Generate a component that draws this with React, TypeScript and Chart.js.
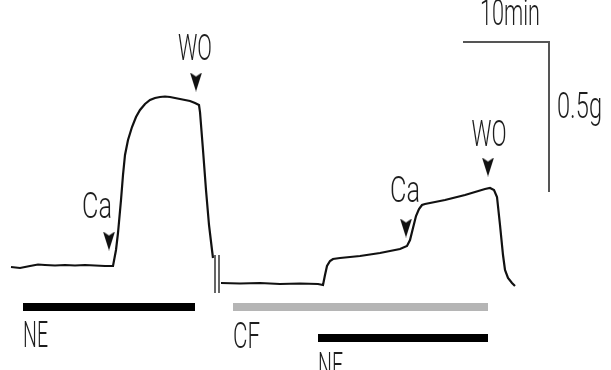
import React, { useEffect, useRef } from "react";
import { Chart, registerables } from "chart.js";

Chart.register(...registerables);

// Time axis in recording units (10 min ≈ 87 units), tension in recording units (0.5 g ≈ 150 units)
const trace1X = [11, 20, 30, 38, 45, 55, 65, 75, 85, 95, 105, 113, 116, 118, 121, 123, 125, 128, 132, 136, 140, 145, 150, 155, 160, 165, 170, 175, 180, 185, 190, 195, 199, 200, 203, 206, 209, 212, 213];
const trace1Y = [103, 102, 104, 105.5, 105, 104.5, 105, 104.5, 105, 104.5, 104, 104, 120, 137, 170, 195, 215, 230, 243, 253, 260, 266, 270, 272, 273, 273.5, 273, 272, 271, 270, 269, 267, 265, 258, 220, 180, 145, 120, 112];

const trace2X = [221, 240, 260, 280, 300, 318, 323, 325, 327, 330, 333, 340, 350, 360, 370, 380, 390, 400, 407, 410, 413, 416, 419, 422, 425, 435, 445, 455, 465, 475, 485, 490, 494, 497, 500, 503, 505, 508, 512, 515];
const trace2Y = [87, 86.5, 87, 86, 86.5, 86, 85, 95, 104, 109, 111, 112, 113, 114, 115.5, 117, 119, 121, 124, 130, 142, 154, 161, 165, 166, 168, 170, 172.5, 175, 178, 181, 182, 180, 173, 145, 115, 100, 92, 87, 84];

// Drug application periods [start, end]
const ne1Period = [23, 195];
const cfPeriod = [233, 488];
const ne2Period = [318, 488];
const barLevelUpper = 63;
const barLevelLower = 32;

// Scale bar: 10 min horizontal, 0.5 g vertical
const scaleBarX = [463, 549, 549];
const scaleBarY = [328, 328, 178];

// Break in recording
const breakX = [215, 219];
const breakY = [77, 115];

// Event markers (Ca, WO)
const markerX = [109, 196, 406, 488];
const markerY = [129, 288, 142, 203];

// Text labels
const labelText = ["Ca", "WO", "NE", "CF", "NE", "10min", "0.5g", "Ca", "WO"];
const labelX = [97, 195, 35.5, 246.5, 330.5, 510, 579.5, 405, 489];
const labelY = [152, 310, 23, 22, -8, 345, 252, 168, 224];
const labelW = [30, 34, 25, 27, 25, 60, 45, 30, 35];

function pts(xs: number[], ys: number[]) {
  return xs.map((x, i) => ({ x, y: ys[i] }));
}

function makeArrow(): HTMLCanvasElement {
  const c = document.createElement("canvas");
  c.width = 12;
  c.height = 19;
  const g = c.getContext("2d")!;
  g.fillStyle = "#111";
  g.beginPath();
  g.moveTo(0, 0);
  g.lineTo(6, 4);
  g.lineTo(12, 0);
  g.lineTo(6, 19);
  g.closePath();
  g.fill();
  return c;
}

const labelPlugin = {
  id: "labels",
  afterDatasetsDraw(chart: any) {
    const ctx = chart.ctx;
    const xs = chart.scales.x;
    const ys = chart.scales.y;
    ctx.save();
    ctx.fillStyle = "#1e1e1e";
    ctx.font = "300 37px Roboto, 'DejaVu Sans', sans-serif";
    ctx.textAlign = "center";
    ctx.textBaseline = "alphabetic";
    labelText.forEach((t, i) => {
      const px = xs.getPixelForValue(labelX[i]);
      const py = ys.getPixelForValue(labelY[i]);
      const m = ctx.measureText(t).width;
      const sx = labelW[i] / m;
      ctx.save();
      ctx.translate(px, py);
      ctx.scale(sx, 1);
      ctx.fillText(t, 0, 0);
      ctx.restore();
    });
    ctx.restore();
  },
};

export default function App() {
  const ref = useRef<HTMLCanvasElement>(null);
  useEffect(() => {
    document.body.style.margin = "0";
    const arrow = makeArrow();
    const line = (data: any, color: string, width: number) => ({
      type: "line",
      data,
      borderColor: color,
      borderWidth: width,
      pointRadius: 0,
      tension: 0,
      fill: false,
      borderCapStyle: "butt",
      clip: false,
    });
    const chart = new Chart(ref.current!, {
      type: "line",
      data: {
        datasets: [
          line(pts([ne1Period[0], ne1Period[1]], [barLevelUpper, barLevelUpper]), "#000", 8),
          line(pts([cfPeriod[0], cfPeriod[1]], [barLevelUpper, barLevelUpper]), "#b5b5b5", 8),
          line(pts([ne2Period[0], ne2Period[1]], [barLevelLower, barLevelLower]), "#000", 8),
          line(pts(scaleBarX, scaleBarY), "#555", 2),
          line(pts([breakX[0], breakX[0]], breakY), "#666", 2),
          line(pts([breakX[1], breakX[1]], breakY), "#666", 2),
          line(pts(trace1X, trace1Y), "#111", 2.2),
          line(pts(trace2X, trace2Y), "#111", 2.2),
          {
            type: "scatter",
            data: pts(markerX, markerY),
            pointStyle: arrow,
            pointRadius: 8,
            showLine: false,
            clip: false,
          } as any,
        ] as any,
      },
      options: {
        animation: false,
        responsive: false,
        devicePixelRatio: 1,
        layout: { padding: 0, autoPadding: false },
        plugins: { legend: { display: false }, tooltip: { enabled: false } },
        scales: {
          x: { type: "linear", min: 0, max: 611, display: false },
          y: { type: "linear", min: 0, max: 370, display: false },
        },
      },
      plugins: [labelPlugin],
    } as any);
    return () => chart.destroy();
  }, []);
  return (
    <div style={{ width: 611, height: 370, background: "#fff" }}>
      <canvas ref={ref} width={611} height={370} />
    </div>
  );
}
